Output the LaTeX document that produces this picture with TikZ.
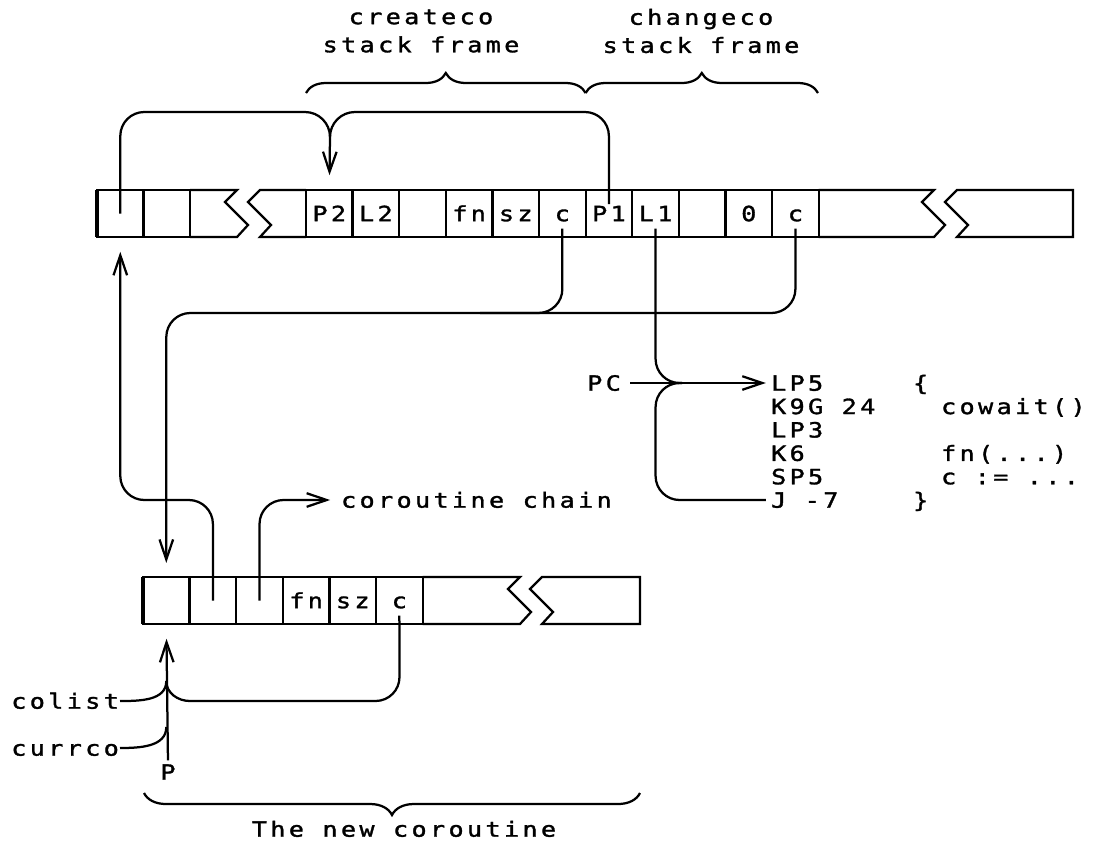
\documentclass[tikz,border=0pt]{standalone}
\usepackage{fontspec}
\newfontfamily\codefont[LetterSpace=16,FakeStretch=1.2,FakeBold=1.5]{DejaVu Sans Mono}
\usetikzlibrary{arrows.meta,positioning,decorations.pathreplacing}

\begin{document}
\begin{tikzpicture}[x=0.025cm,y=-0.025cm,line width=1.6pt,
  font=\codefont\fontsize{14.9}{20}\selectfont,
  cell/.style={draw,minimum width=1.165cm,minimum height=1.175cm,inner sep=0pt,
    outer sep=0pt,text height=10.9pt,text depth=0pt},
  lbl/.style={inner sep=0pt,text height=10.9pt,text depth=0pt},
  ptr/.style={-{Straight Barb[length=5mm,width=3.4mm]}},
  zig/.style={insert path={-- ++(-12,12) -- ++(23,23) -- ++(-11,12)}},
  roundlink/.style={rounded corners=6mm}]
\useasboundingbox (0,0) rectangle (1099,844);
% frame labels and braces
\node[align=center] (crlbl) at (421,31) {createco\\stack frame};
\node[align=center] (chlbl) at (701,31) {changeco\\stack frame};
\draw[decorate,decoration={brace,amplitude=5mm}] (306,93) -- (585.6,93);
\draw[decorate,decoration={brace,amplitude=5mm}] (585.6,93) -- (818,93);
% old stack, first piece
\node[cell] (t1) at (120.3,213.5) {};
\node[cell,right=0pt of t1] (t2) {};
\draw (t2.north east) -- (237,190) [zig] -- (t2.south east);
\draw[line width=3pt] (t1.north west) -- (t1.south west);
% old stack, second piece
\node[cell] (p2) at (329.3,213.5) {P2};
\node[cell,right=0pt of p2] (l2) {L2};
\node[cell,right=0pt of l2] (e1) {};
\node[cell,right=0pt of e1] (fn1) {fn};
\node[cell,right=0pt of fn1] (sz1) {sz};
\node[cell,right=0pt of sz1] (c1) {c};
\node[cell,right=0pt of c1] (p1) {P1};
\node[cell,right=0pt of p1] (l1) {L1};
\node[cell,right=0pt of l1] (e2) {};
\node[cell,right=0pt of e2] (zero) {0};
\node[cell,right=0pt of zero] (c2) {c};
\draw (p2.north west) -- (260,190) [zig] -- (p2.south west);
\draw (c2.north east) -- (934,190) [zig] -- (c2.south east);
\draw (1073,190) -- (957,190) [zig] -- (1073,237) -- cycle;
% new coroutine stack
\node[cell] (b1) at (166.3,600.5) {};
\node[cell,right=0pt of b1] (b2) {};
\node[cell,right=0pt of b2] (b3) {};
\node[cell,right=0pt of b3] (fn2) {fn};
\node[cell,right=0pt of fn2] (sz2) {sz};
\node[cell,right=0pt of sz2] (c3) {c};
\draw (c3.north east) -- (520,577) [zig] -- (c3.south east);
\draw (640,577) -- (542,577) [zig] -- (640,624) -- cycle;
\draw[line width=3pt] (b1.north west) -- (b1.south west);
% code of changeco
\node[lbl,anchor=east] (pc) at (622,383) {PC};
\node[lbl,anchor=west] (lp5) at (770,383) {LP5};
\node[lbl,anchor=west] (k9g) at (770,406.4) {K9G 24};
\node[lbl,anchor=west] (lp3) at (770,429.8) {LP3};
\node[lbl,anchor=west] (k6) at (770,453.2) {K6};
\node[lbl,anchor=west] (sp5) at (770,476.6) {SP5};
\node[lbl,anchor=west] (jmp) at (770,500) {J -7};
\node[lbl,anchor=west] (obr) at (912,383) {\{};
\node[lbl,anchor=west] (cowait) at (940,406.4) {cowait()};
\node[lbl,anchor=west] (fncall) at (940,453.2) {fn(...)};
\node[lbl,anchor=west] (cset) at (940,476.6) {c := ...};
\node[lbl,anchor=west] (cbr) at (912,500) {\}};
% other labels
\node[lbl,anchor=west] (chain) at (340,500) {coroutine chain};
\node[lbl,anchor=east] (colist) at (120,701) {colist};
\node[lbl,anchor=east] (currco) at (120,748) {currco};
\node[lbl] (pnode) at (168,772) {P};
\draw[decorate,decoration={brace,amplitude=5.5mm}] (640,793) -- (144,793);
\node[lbl] (newco) at (404,829) {The new coroutine};
% junction points
\coordinate (jtop) at (330,137);
\coordinate (hl) at (166.3,313);
\coordinate (jpc) at (682,383);
\coordinate (jcl) at (166.3,681);
\coordinate (jcc) at (166.3,727);
% links in the old stack
\draw (t1.center) -- (120.3,136) to[out=90,in=180] (144.3,112) -- (305,112)
  to[out=0,in=90] (jtop);
\draw ([yshift=-10pt]p1.north) -- (608.9,136) to[out=90,in=0] (584.9,112) -- (355,112)
  to[out=180,in=90] (jtop);
\draw[ptr,shorten >=10.5pt] (jtop) -- (p2.north);
\draw[ptr,roundlink,shorten >=10pt] ([yshift=6pt]c2.south) |- (hl) -- (b1.north);
\draw[roundlink] ([yshift=6pt]c1.south) |- (480,313);
% return address into the code
\draw[roundlink] ([yshift=6pt]l1.south) |- (jpc);
\draw[roundlink,shorten >=3pt] (jpc) -| (l1.south |- jmp.west) -- (jmp.west);
\draw[ptr,shorten <=6pt,shorten >=3pt] (pc.east) -- (lp5.west);
% links from the new coroutine
\draw[ptr,roundlink,shorten >=10.5pt] (b2.center) |- (t1.south |- chain.west) -- (t1.south);
\draw[ptr,roundlink,shorten >=7pt] (b3.center) |- (chain.west);
\draw ([yshift=6pt]c3.south) -- (399.5,677) to[out=-90,in=0] (375.5,701) -- (190,701)
  to[out=180,in=-90] (jcl);
\draw (colist.east) to[out=0,in=-90] (jcl);
\draw (currco.east) to[out=0,in=-90] (jcc);
\draw[ptr,shorten <=2pt,shorten >=10.5pt] (pnode.north) -- (b1.south);
\end{tikzpicture}
\end{document}
